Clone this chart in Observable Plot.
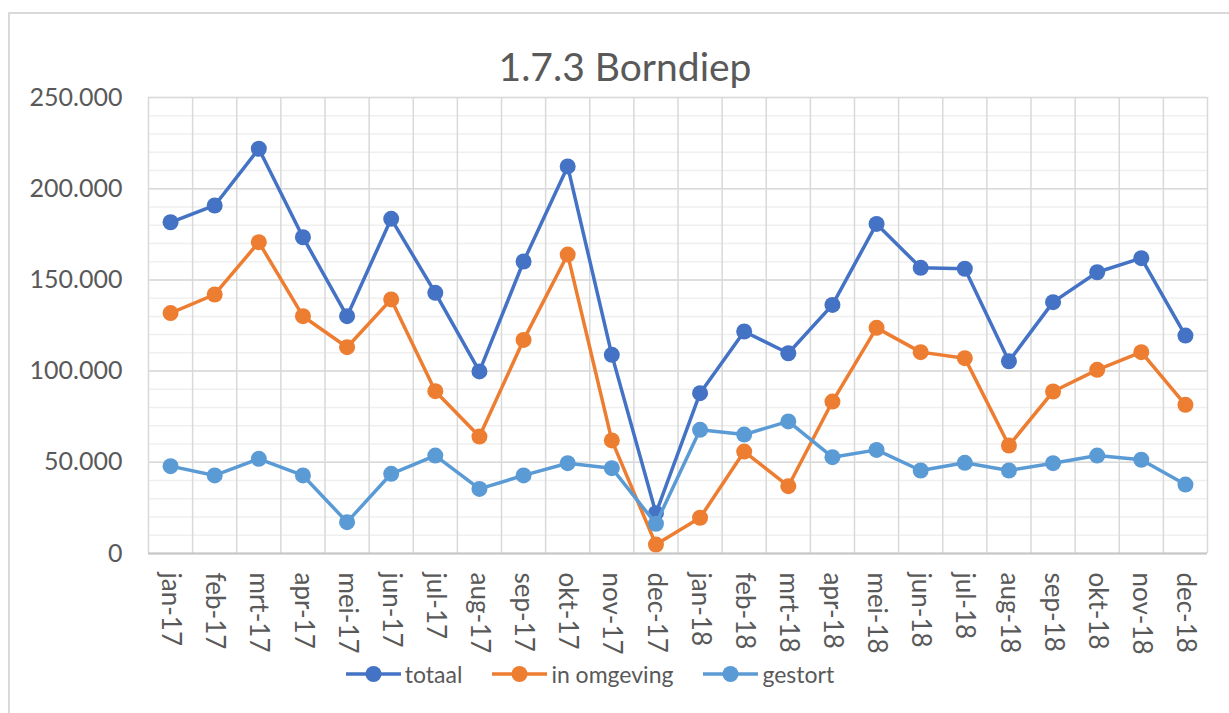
<!DOCTYPE html>
<html>
<head>
<meta charset="utf-8">
<script src="https://cdn.jsdelivr.net/npm/d3@7"></script>
<script src="https://cdn.jsdelivr.net/npm/@observablehq/plot@0.6"></script>
<style>
  html, body { margin: 0; padding: 0; background: #fff; overflow: hidden; width: 1229px; height: 713px; }
  #frame { position: absolute; left: 8px; top: 12px; width: 1260px; height: 760px;
           border-left: 2px solid #d9d9d9; border-top: 2px solid #d9d9d9; font-family: Lato, sans-serif; color: #595959; }
  #title { width: 1230px; text-align: center; padding-top: 28px; height: 50px; line-height: 48px; font-size: 39px; }
  #chart svg { display: block; }
  #legend { width: 1160px; height: 44px; display: flex; justify-content: center; align-items: center; font-size: 23px; }
  .item { display: flex; align-items: center; margin: 0 15px; }
  .item svg { margin-right: 4px; }
</style>
</head>
<body>
<div id="frame">
  <div id="title"></div>
  <div id="chart"></div>
  <div id="legend"></div>
</div>
<script>
const title = "1.7.3 Borndiep";
const months = ["jan-17","feb-17","mrt-17","apr-17","mei-17","jun-17","jul-17","aug-17","sep-17","okt-17","nov-17","dec-17",
                "jan-18","feb-18","mrt-18","apr-18","mei-18","jun-18","jul-18","aug-18","sep-18","okt-18","nov-18","dec-18"];
const totaal   = [181600,190800,221900,173400,130100,183500,142900,99800,160100,212200,108900,22100,
                  87900,121700,109800,136300,180700,156600,156100,105400,137800,154200,161900,119500];
const omgeving = [131800,142000,170700,130100,113100,139300,89000,64100,117100,163900,62000,4900,
                  19600,55900,36900,83300,123700,110400,107100,59200,88800,100700,110400,81500];
const gestort  = [47900,42800,51900,42800,17200,43700,53700,35400,42800,49500,46800,16300,
                  67800,65200,72400,52800,56800,45500,49700,45500,49500,53700,51400,37800];
const seriesNames = ["totaal", "in omgeving", "gestort"];
const seriesColors = ["#4472C4", "#ED7D31", "#5B9BD5"];
const yMajorTicks = [0, 50000, 100000, 150000, 200000, 250000];
const yMinorStep = 10000;

const seriesValues = [totaal, omgeving, gestort];
const rows = months.map((m, i) => ({i, m, v: seriesValues.map(s => s[i])}));
const boundaries = d3.range(months.length + 1).map(i => i - 0.5);
const minorTicks = d3.range(0, yMajorTicks[yMajorTicks.length - 1] + 1, yMinorStep);
const fmt = d3.formatLocale({decimal: ",", thousands: ".", grouping: [3], currency: ["€", ""]}).format(",.0f");

document.getElementById("title").textContent = title;

const seriesMarks = seriesNames.flatMap((name, k) => [
  Plot.line(rows, {x: "i", y: d => d.v[k], stroke: seriesColors[k], strokeWidth: 3.5}),
  Plot.dot(rows, {x: "i", y: d => d.v[k], r: 8, fill: seriesColors[k], stroke: "none"})
]);

const chart = Plot.plot({
  width: 1219,
  height: 560,
  marginTop: 5,
  marginLeft: 138,
  marginRight: 22,
  marginBottom: 99,
  style: {fontFamily: "Lato, sans-serif", fontSize: "25px", color: "#595959", background: "white", overflow: "visible"},
  x: {domain: [-0.5, months.length - 0.5], axis: null},
  y: {domain: [0, 250000], axis: null},
  marks: [
    Plot.ruleY(minorTicks, {stroke: "#efefef", strokeWidth: 1.5}),
    Plot.ruleX(boundaries, {stroke: "#d9d9d9", strokeWidth: 1.5}),
    Plot.ruleY(yMajorTicks, {stroke: "#d9d9d9", strokeWidth: 1.5}),
    Plot.ruleY([0], {stroke: "#c6c6c6", strokeWidth: 1.8}),
    Plot.text(yMajorTicks, {y: d => d, frameAnchor: "left", text: d => fmt(d), textAnchor: "end", dx: -26, fill: "#595959", fontSize: 25}),
    Plot.text(months, {x: (d, i) => i, frameAnchor: "bottom", text: d => d, rotate: 90, textAnchor: "start", lineAnchor: "middle", dy: 19, fill: "#595959", fontSize: 26}),
    ...seriesMarks
  ]
});
document.getElementById("chart").appendChild(chart);

const legend = document.getElementById("legend");
seriesNames.forEach((name, k) => {
  const item = document.createElement("div");
  item.className = "item";
  item.innerHTML = `<svg width="55" height="20"><line x1="0" x2="55" y1="10" y2="10" stroke="${seriesColors[k]}" stroke-width="3.5"/><circle cx="27.5" cy="10" r="8" fill="${seriesColors[k]}"/></svg><span>${name}</span>`;
  legend.appendChild(item);
});
</script>
</body>
</html>
